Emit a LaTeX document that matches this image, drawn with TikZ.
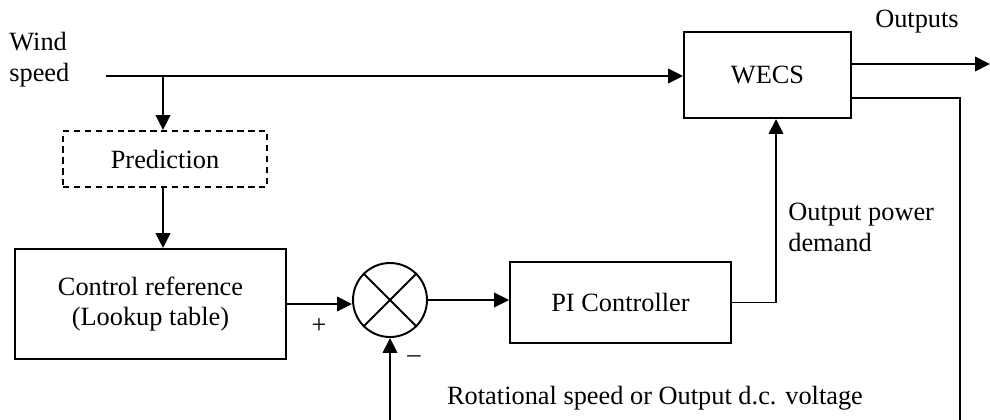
\documentclass[tikz,border=0pt]{standalone}
\usepackage{fontspec}
\setmainfont{Liberation Serif}
\usepackage{tikz}
\usetikzlibrary{arrows.meta, positioning, calc}
\tikzset{
  box/.style      = {draw=black, line width=1.1pt, rectangle, align=center,
                     inner sep=4pt, font=\fontsize{15}{17.5}\selectfont},
  boxdash/.style  = {box, dash pattern=on 3.6pt off 2.6pt},
  junction/.style = {draw=black, line width=1.1pt, circle, minimum size=1.48cm, inner sep=0pt},
  flow/.style     = {-{Triangle[length=3mm, width=2.9mm]}, draw=black, line width=1.1pt},
  wire/.style     = {draw=black, line width=1.1pt},
  note/.style     = {font=\fontsize{15}{17.5}\selectfont, align=left, inner sep=0pt},
  sign/.style     = {font=\fontsize{15}{17}\selectfont, inner sep=0pt},
}

\begin{document}
\begin{tikzpicture}[x=0.02cm, y=-0.02cm]
  \useasboundingbox (0,0) rectangle (990,419);
  \clip (0,0) rectangle (990,419);

  % input side
  \node[note, anchor=west] (wind) at (9,60) {Wind\\speed};
  \coordinate (win) at (106,76);
  \coordinate (tap) at (163,76);
  \node[box, minimum width=3.34cm, minimum height=1.72cm] (wecs) at (767.5,75) {WECS};
  \node[boxdash, minimum width=4.08cm, minimum height=1.12cm] (pred) at (165,159) {Prediction};
  \node[box, minimum width=5.42cm, minimum height=2.2cm] (ctrl) at (150.5,304)
    {Control reference\\(Lookup table)};
  \draw[flow] (win) -- (wecs.west |- win);
  \draw[flow] (tap) -- (tap |- pred.north);
  \draw[flow] (pred.south -| tap) -- (tap |- ctrl.north);

  % loop
  \node[junction] (sum) at (390,300) {};
  \draw[wire] (sum.north west) -- (sum.south east);
  \draw[wire] (sum.north east) -- (sum.south west);
  \node[box, minimum width=4.42cm, minimum height=1.62cm] (pi) at (620.5,302.5) {PI Controller};
  \draw[flow] (ctrl.east) -- (ctrl.east -| sum.west);
  \draw[flow] (sum.east) -- (sum.east -| pi.west);
  \coordinate (pd) at (776,302.5);
  \draw[flow] (pi.east) -- (pd) -- (pd |- wecs.south);
  \node[sign] (plus) at (319,326) {+};
  \node[sign] (minus) at (414,359) {--};

  % outputs and feedback
  \coordinate (o1) at ($(wecs.east)+(0,-11)$);
  \coordinate (o2) at ($(wecs.east)+(0,23)$);
  \coordinate (oend) at (990,64);
  \coordinate (fb) at (960,440);
  \draw[flow] (o1) -- (oend);
  \draw[flow] (o2) -| (fb) -| (sum.south);

  \node[note, anchor=center] (outl) at (917,22) {Outputs};
  \node[note, anchor=north west] (pdem) at (788,203) {Output power\\demand};
  \node[note, anchor=center] (fbl) at (655,398) {Rotational speed or Output d.c. voltage};
\end{tikzpicture}
\end{document}
